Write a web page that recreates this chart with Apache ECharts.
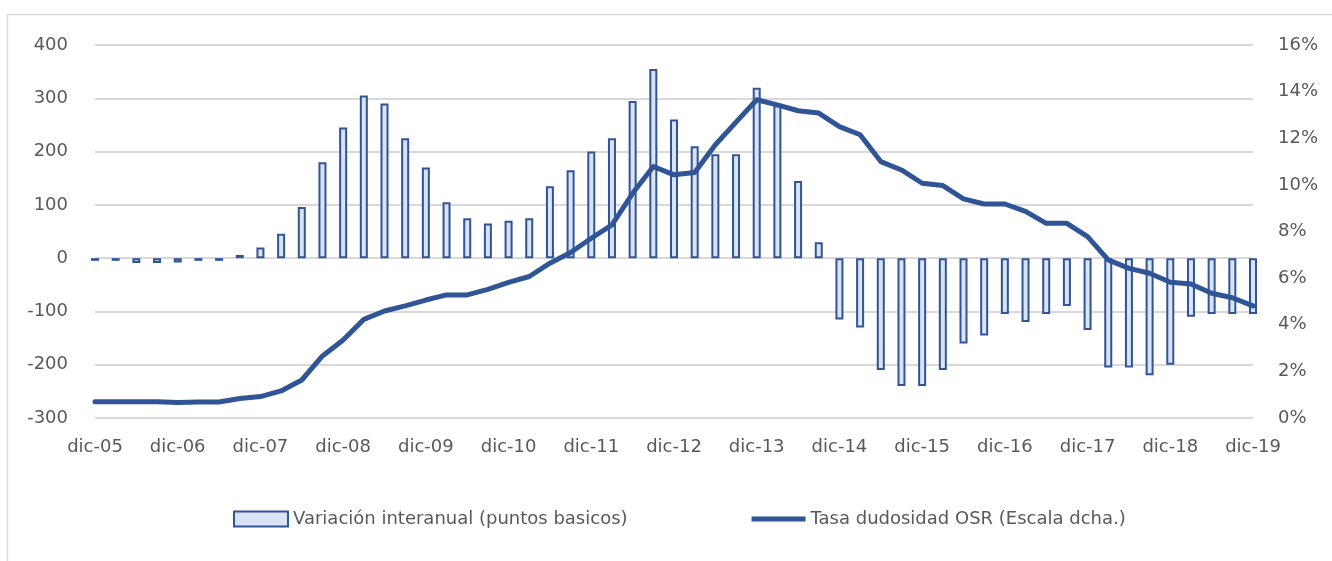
<!DOCTYPE html>
<html>
<head>
<meta charset="utf-8">
<script src="https://cdn.jsdelivr.net/npm/echarts@6/dist/echarts.min.js"></script>
<style>html,body{margin:0;padding:0;background:#fff;}#c{width:1332px;height:561px;}</style>
</head>
<body>
<div id="c"></div>
<script>
const categories = [
 'dic-05','mar-06','jun-06','sep-06','dic-06','mar-07','jun-07','sep-07','dic-07','mar-08','jun-08','sep-08',
 'dic-08','mar-09','jun-09','sep-09','dic-09','mar-10','jun-10','sep-10','dic-10','mar-11','jun-11','sep-11',
 'dic-11','mar-12','jun-12','sep-12','dic-12','mar-13','jun-13','sep-13','dic-13','mar-14','jun-14','sep-14',
 'dic-14','mar-15','jun-15','sep-15','dic-15','mar-16','jun-16','sep-16','dic-16','mar-17','jun-17','sep-17',
 'dic-17','mar-18','jun-18','sep-18','dic-18','mar-19','jun-19','sep-19','dic-19'
];
const variacion = [-5,-5,-9,-9,-8,-5,-5,6,20,46,96,180,245,305,290,225,170,105,75,65,70,75,135,165,200,225,295,355,260,210,195,195,320,287,145,30,-115,-130,-210,-240,-240,-210,-160,-145,-105,-120,-105,-90,-135,-205,-205,-220,-200,-110,-105,-105,-105];
const tasa = [0.70,0.70,0.70,0.70,0.66,0.69,0.69,0.84,0.92,1.16,1.63,2.66,3.35,4.23,4.59,4.81,5.06,5.28,5.28,5.52,5.82,6.07,6.64,7.10,7.71,8.28,9.64,10.79,10.43,10.53,11.72,12.69,13.65,13.43,13.18,13.08,12.50,12.15,11.00,10.64,10.07,9.97,9.40,9.18,9.18,8.86,8.35,8.35,7.78,6.78,6.42,6.21,5.82,5.75,5.35,5.16,4.81];
const nameBar = 'Variación interanual (puntos basicos)';
const nameLine = 'Tasa dudosidad OSR (Escala dcha.)';

const FONT = 'DejaVu Sans';
const TXT = '#595959';
const DARK = '#2F5597';
const chart = echarts.init(document.getElementById('c'));
chart.setOption({
  animation: false,
  backgroundColor: '#fff',
  textStyle: {fontFamily: FONT},
  graphic: [{
    type: 'rect', shape: {x: 7.5, y: 14.5, width: 1400, height: 600},
    style: {fill: 'none', stroke: '#d9d9d9', lineWidth: 1.5}, silent: true, z: -10
  }],
  grid: {left: 95, right: 79, top: 45, bottom: 143},
  legend: {
    left: 228, top: 505, itemWidth: 54, itemHeight: 15, itemGap: 124,
    textStyle: {fontFamily: FONT, fontSize: 18, color: TXT},
    data: [
      {name: nameBar, icon: 'rect'},
      {name: nameLine, icon: 'path://M0 0H55V5H0Z'}
    ]
  },
  xAxis: {
    type: 'category', data: categories, boundaryGap: false,
    axisLine: {show: false}, axisTick: {show: false},
    axisLabel: {interval: 3, margin: 20, fontSize: 18, color: TXT, fontFamily: FONT},
    splitLine: {show: false}
  },
  yAxis: [{
    type: 'value', min: -300, max: 400, interval: 100,
    axisLine: {show: false}, axisTick: {show: false},
    axisLabel: {margin: 27, fontSize: 18, color: TXT, fontFamily: FONT},
    splitLine: {lineStyle: {color: '#d9d9d9', width: 2}}
  }, {
    type: 'value', min: 0, max: 16, interval: 2, position: 'right',
    axisLine: {show: false}, axisTick: {show: false},
    axisLabel: {margin: 25, fontSize: 18, color: TXT, fontFamily: FONT, formatter: '{value}%'},
    splitLine: {show: false}
  }],
  series: [{
    name: nameBar, type: 'bar', data: variacion, barWidth: 8, clip: false,
    itemStyle: {color: '#DAE3F3', borderColor: DARK, borderWidth: 2}
  }, {
    name: nameLine, type: 'line', yAxisIndex: 1, data: tasa, clip: false,
    showSymbol: false, symbol: 'none', z: 5,
    itemStyle: {color: DARK},
    lineStyle: {color: DARK, width: 5, join: 'round', cap: 'round'}
  }]
});
</script>
</body>
</html>
